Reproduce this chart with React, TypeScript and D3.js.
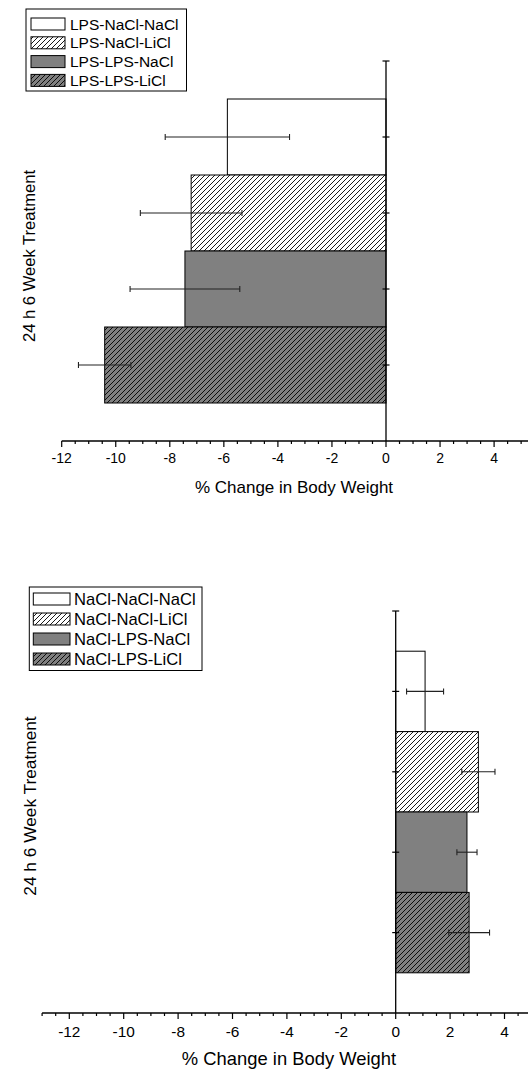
import React from "react";
import * as d3 from "d3";

const topCategories = ["LPS-NaCl-NaCl", "LPS-NaCl-LiCl", "LPS-LPS-NaCl", "LPS-LPS-LiCl"];
const topMeans = [-5.87, -7.21, -7.44, -10.41];
const topErrors = [2.3, 1.88, 2.03, 0.97];

const bottomCategories = ["NaCl-NaCl-NaCl", "NaCl-NaCl-LiCl", "NaCl-LPS-NaCl", "NaCl-LPS-LiCl"];
const bottomMeans = [1.08, 3.04, 2.62, 2.7];
const bottomErrors = [0.68, 0.61, 0.37, 0.75];

const xTickValues = [-12, -10, -8, -6, -4, -2, 0, 2, 4];
const xAxisTitle = "% Change in Body Weight";
const yAxisTitle = "24 h 6 Week Treatment";

const fills = ["#ffffff", "url(#hatchWhite)", "#808080", "url(#hatchGray)"];
const FONT = "'Liberation Sans', Arial, sans-serif";

type PanelProps = {
  cats: string[];
  means: number[];
  errs: number[];
  xDomainStart: number;
  x12: number;
  x0: number;
  yTop: number;
  yBottom: number;
  tickFont: number;
  titleFont: number;
  tickBaseline: number;
  titleBaseline: number;
  titleX: number;
  yLabelX: number;
  yLabelY: number;
  yLabelFont: number;
  legend: { x: number; y: number; w: number; h: number; row0: number; rowStep: number; swX: number; swW: number; textX: number; font: number };
};

function Panel(p: PanelProps) {
  const x = d3.scaleLinear().domain([-12, 0]).range([p.x12, p.x0]);
  const y = d3.scaleLinear().domain([0, 5]).range([p.yTop, p.yBottom]);
  const minor = d3.range(p.xDomainStart, 6.01, 0.5);
  const axisY = p.yBottom;
  const L = p.legend;
  return (
    <g>
      {p.means.map((m, i) => {
        const c = i + 1;
        const y0 = y(c - 0.5);
        const y1 = y(c + 0.5);
        const xa = Math.min(x(0), x(m));
        const xb = Math.max(x(0), x(m));
        return (
          <rect key={"b" + i} x={xa} y={y0} width={xb - xa} height={y1 - y0}
            fill={fills[i]} stroke="#000" strokeWidth={1} />
        );
      })}
      {p.means.map((m, i) => {
        const cy = y(i + 1);
        const lo = x(m - p.errs[i]);
        const hi = x(m + p.errs[i]);
        return (
          <g key={"e" + i} stroke="#222" strokeWidth={1.1}>
            <line x1={lo} x2={hi} y1={cy} y2={cy} />
            <line x1={lo} x2={lo} y1={cy - 3} y2={cy + 3} />
            <line x1={hi} x2={hi} y1={cy - 3} y2={cy + 3} />
          </g>
        );
      })}
      {/* y axis */}
      <line x1={x(0)} x2={x(0)} y1={p.yTop} y2={p.yBottom} stroke="#000" strokeWidth={1.3} />
      {d3.range(0, 5).map((k) => (
        <line key={"yt" + k} x1={x(0) - 3.5} x2={x(0) + 3.5} y1={y(k)} y2={y(k)} stroke="#000" strokeWidth={1.2} />
      ))}
      {/* x axis */}
      <line x1={x(p.xDomainStart)} x2={x(6)} y1={axisY} y2={axisY} stroke="#000" strokeWidth={1.3} />
      {minor.map((v, i) => {
        const major = Math.abs(v % 2) < 1e-6;
        return (
          <line key={"xt" + i} x1={x(v)} x2={x(v)} y1={axisY} y2={axisY + (major ? 6 : 3)} stroke="#000" strokeWidth={1.2} />
        );
      })}
      {xTickValues.map((v) => (
        <text key={"xl" + v} x={x(v)} y={p.tickBaseline} textAnchor="middle" fontFamily={FONT} fontSize={p.tickFont}>
          {v}
        </text>
      ))}
      <text x={p.titleX} y={p.titleBaseline} textAnchor="middle" fontFamily={FONT} fontSize={p.titleFont}>
        {xAxisTitle}
      </text>
      <text transform={`translate(${p.yLabelX},${p.yLabelY}) rotate(-90)`} textAnchor="middle" fontFamily={FONT} fontSize={p.yLabelFont}>
        {yAxisTitle}
      </text>
      {/* legend */}
      <rect x={L.x} y={L.y} width={L.w} height={L.h} fill="#fff" stroke="#000" strokeWidth={1} />
      {p.cats.map((c, i) => {
        const cy = L.row0 + i * L.rowStep;
        return (
          <g key={"lg" + i}>
            <rect x={L.swX} y={cy - 6} width={L.swW} height={12} fill={fills[i]} stroke="#000" strokeWidth={1} />
            <text x={L.textX} y={cy} dy="0.36em" fontFamily={FONT} fontSize={L.font}>
              {c}
            </text>
          </g>
        );
      })}
    </g>
  );
}

export default function App() {
  return (
    <svg width={528} height={1071} style={{ position: "absolute", left: 0, top: 0, background: "#fff" }}>
      <defs>
        <pattern id="hatchWhite" patternUnits="userSpaceOnUse" width={5} height={5}>
          <rect width={5} height={5} fill="#fff" />
          <path d="M-1,1 L1,-1 M0,5 L5,0 M4,6 L6,4" stroke="#000" strokeWidth={0.9} />
        </pattern>
        <pattern id="hatchGray" patternUnits="userSpaceOnUse" width={5} height={5}>
          <rect width={5} height={5} fill="#808080" />
          <path d="M-1,1 L1,-1 M0,5 L5,0 M4,6 L6,4" stroke="#000" strokeWidth={0.9} />
        </pattern>
      </defs>
      <rect width={528} height={1071} fill="#fff" />
      <Panel
        cats={topCategories}
        means={topMeans}
        errs={topErrors}
        xDomainStart={-12}
        x12={61.7}
        x0={386}
        yTop={61}
        yBottom={441}
        tickFont={14}
        titleFont={17}
        tickBaseline={463}
        titleBaseline={493}
        titleX={294}
        yLabelX={35}
        yLabelY={256}
        yLabelFont={16.6}
        legend={{ x: 26, y: 9, w: 160.5, h: 82, row0: 24, rowStep: 18.8, swX: 31, swW: 34, textX: 70, font: 15.5 }}
      />
      <Panel
        cats={bottomCategories}
        means={bottomMeans}
        errs={bottomErrors}
        xDomainStart={-13}
        x12={69.3}
        x0={395.7}
        yTop={611}
        yBottom={1013}
        tickFont={15.4}
        titleFont={18.4}
        tickBaseline={1037}
        titleBaseline={1065}
        titleX={289}
        yLabelX={36}
        yLabelY={806}
        yLabelFont={17.3}
        legend={{ x: 29.3, y: 587, w: 172.7, h: 83.5, row0: 599, rowStep: 20, swX: 33.3, swW: 36.7, textX: 74, font: 16.6 }}
      />
    </svg>
  );
}
